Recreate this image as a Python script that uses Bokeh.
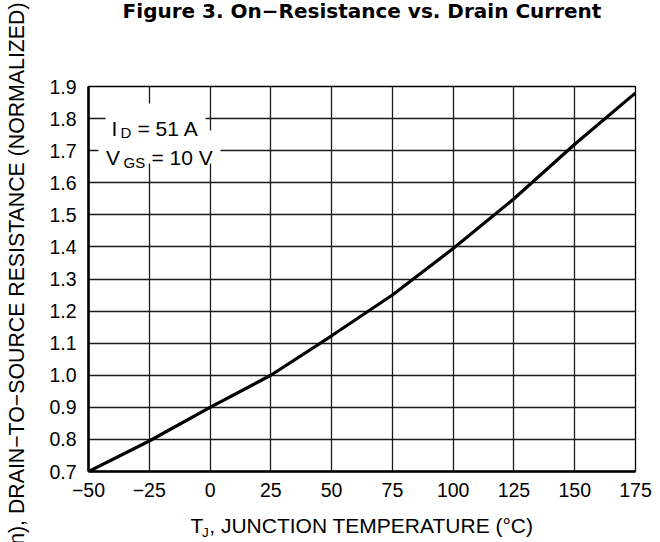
from bokeh.plotting import figure
from bokeh.models import Range1d, FixedTicker, NumeralTickFormatter, Label, BoxAnnotation, LinearAxis, Title
from bokeh.embed import file_html
from bokeh.resources import INLINE

# ---- data ----
temp_c = [-50, -25, 0, 25, 50, 75, 100, 125, 150, 175]
rds_norm = [0.70, 0.795, 0.90, 1.00, 1.123, 1.25, 1.395, 1.55, 1.72, 1.88]
x_ticks = [-50, -25, 0, 25, 50, 75, 100, 125, 150, 175]
y_ticks = [0.7, 0.8, 0.9, 1.0, 1.1, 1.2, 1.3, 1.4, 1.5, 1.6, 1.7, 1.8, 1.9]
x_tick_overrides = {-50: "\u221250", -25: "\u221225"}

NB = "\u00a0"
title_text = "Figure 3. On\u2212Resistance vs. Drain Current"
ylabel_text = "RDS(on), DRAIN\u2212TO\u2212SOURCE RESISTANCE (NORMALIZED)" + NB * 9
xlabel_text = "T" + NB + ", JUNCTION TEMPERATURE (\u00b0C)"
xlabel_sub = "J"
xlabel_sub_pos = -1.9   # horizontal position (data units) of the subscript J
leg1 = ("I", "D", "= 51 A")
leg2 = ("V", "GS", "= 10 V")

FONT = "Liberation Sans"

W, H = 660, 542
ML, MR, MT, MB = 88, 25, 86, 71

p = figure(width=W, height=H, output_backend="svg", toolbar_location=None,
           x_range=Range1d(-50, 175), y_range=Range1d(0.7, 1.9),
           min_border_left=ML, min_border_right=MR, min_border_top=MT, min_border_bottom=MB,
           background_fill_color="white", border_fill_color="white")

p.line(temp_c, rds_norm, line_color="black", line_width=3.2)

for ax in (p.xaxis[0], p.yaxis[0]):
    ax.major_tick_out = 0
    ax.major_tick_in = 0
    ax.minor_tick_out = 0
    ax.minor_tick_in = 0
    ax.axis_line_color = "black"
    ax.axis_line_width = 2.6
    ax.major_label_text_font = FONT
    ax.major_label_text_font_size = "19.5px"
    ax.major_label_text_color = "black"
    ax.axis_label_text_font = FONT
    ax.axis_label_text_font_style = "normal"
    ax.axis_label_text_color = "black"

p.xaxis.axis_label_text_font_size = "21px"
p.yaxis.axis_label_text_font_size = "21.3px"
p.xaxis.major_label_standoff = 11
p.yaxis.major_label_standoff = 12
p.xaxis.ticker = FixedTicker(ticks=x_ticks)
p.yaxis.ticker = FixedTicker(ticks=y_ticks)
p.xaxis.major_label_overrides = x_tick_overrides
p.yaxis.formatter = NumeralTickFormatter(format="0.0")
p.xaxis.axis_label = xlabel_text
p.xaxis.axis_label_standoff = 14
p.yaxis.axis_label = ylabel_text
p.yaxis.axis_label_standoff = 17

# subscript J of the x-axis label, as a lone label on an extra bare axis
j_axis = LinearAxis(ticker=FixedTicker(ticks=[xlabel_sub_pos]),
                    major_label_overrides={xlabel_sub_pos: xlabel_sub},
                    axis_line_color=None, major_tick_out=0, major_tick_in=0,
                    minor_tick_out=0, minor_tick_in=0,
                    major_label_text_font=FONT, major_label_text_font_size="13.5px",
                    major_label_text_color="black", major_label_standoff=-15)
p.add_layout(j_axis, "below")

p.xgrid.ticker = FixedTicker(ticks=x_ticks)
p.ygrid.ticker = FixedTicker(ticks=y_ticks)
for g in (p.xgrid[0], p.ygrid[0]):
    g.grid_line_color = "#1a1a1a"
    g.grid_line_width = 1.3

p.outline_line_color = "black"
p.outline_line_width = 1.3

# title (outermost), with an empty spacer title between it and the frame
p.title.text = title_text
p.title.align = "center"
p.title.vertical_align = "top"
p.title.text_font = "DejaVu Sans"
p.title.text_font_style = "bold"
p.title.text_font_size = "20px"
p.title.text_color = "black"
p.title.standoff = -6
p.add_layout(Title(text=NB, text_font_size="1px", standoff=62), "above")

# helpers: picture pixel -> frame-relative screen units
def FX(px):
    return px - 88

def FY(py):
    return 471 - py

# white boxes behind the condition text
for (l, r, t, b) in [(105, 205, 103, 130), (98, 220, 130, 163)]:
    p.add_layout(BoxAnnotation(left=FX(l), right=FX(r), top=FY(t), bottom=FY(b),
                               left_units="screen", right_units="screen",
                               top_units="screen", bottom_units="screen",
                               fill_color="white", fill_alpha=1.0, line_color=None))

def lab(text, px, py, size):
    p.add_layout(Label(x=FX(px), y=FY(py), x_units="screen", y_units="screen", text=text,
                       text_font=FONT, text_font_size=size, text_color="black",
                       text_baseline="alphabetic", text_align="left"))

lab(leg1[0], 111, 127.5, "21px")
lab(leg1[1], 120, 131.7, "15px")
lab(leg1[2], 137, 127.5, "21px")
lab(leg2[0], 105.5, 156.7, "21px")
lab(leg2[1], 123, 161.5, "15px")
lab(leg2[2], 151, 156.7, "21px")

open("out.html", "w").write(file_html(p, INLINE))
